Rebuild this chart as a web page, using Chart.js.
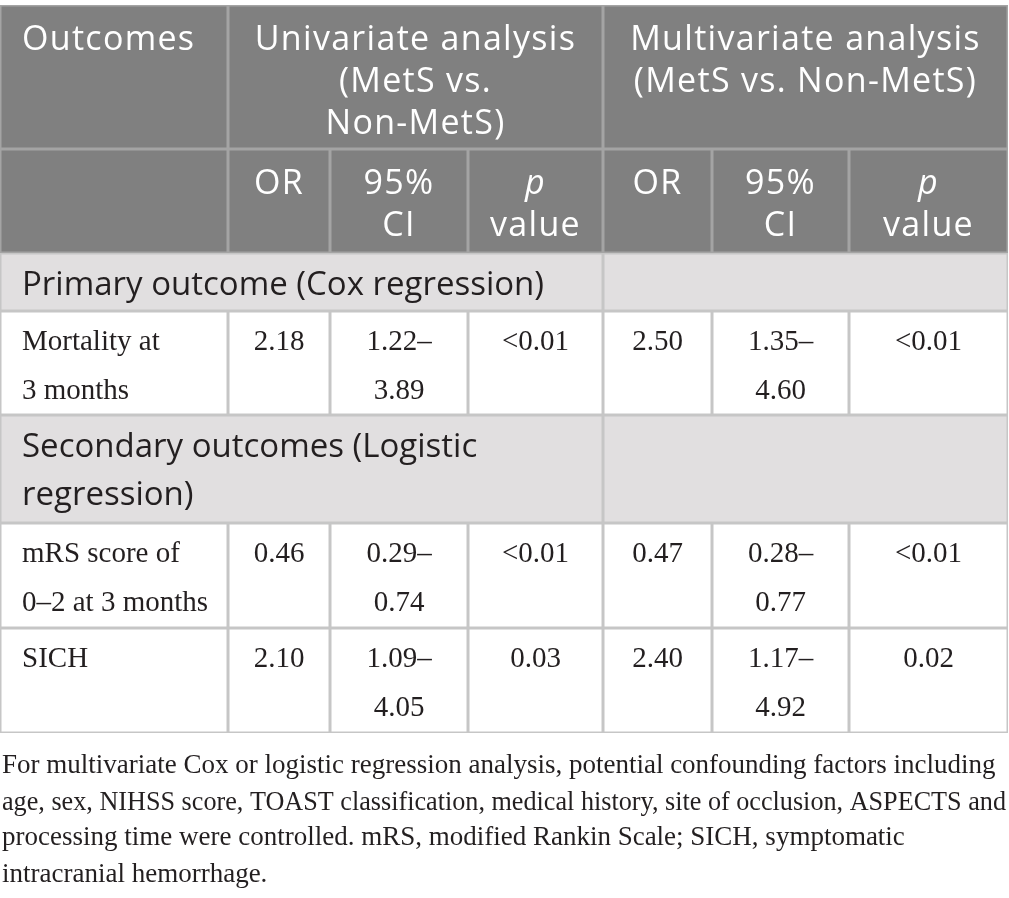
<!DOCTYPE html>
<html>
<head>
<meta charset="utf-8">
<title>MetS outcomes table</title>
<script src="https://cdn.jsdelivr.net/npm/chart.js@4.4.1/dist/chart.umd.min.js"></script>
<style>
	html, body { margin: 0; padding: 0; background: #fff; }
	#tableChart { display: block; }
</style>
</head>
<body>
<canvas id="tableChart" width="1009" height="898"></canvas>
<script>
// 표 데이터
const outcomes = [['Mortality at', '3 months'], ['mRS score of', '0–2 at 3 months'], ['SICH']];
const uniOR = [2.18, 0.46, 2.10];
const uniCILow = [1.22, 0.29, 1.09];
const uniCIHigh = [3.89, 0.74, 4.05];
const uniP = ['<0.01', '<0.01', '0.03'];
const multiOR = [2.50, 0.47, 2.40];
const multiCILow = [1.35, 0.28, 1.17];
const multiCIHigh = [4.60, 0.77, 4.92];
const multiP = ['<0.01', '<0.01', '0.02'];
const sections = [['Primary outcome (Cox regression)'], ['Secondary outcomes (Logistic', 'regression)']];
const groupHeaders = [['Univariate analysis', '(MetS vs.', 'Non-MetS)'], ['Multivariate analysis', '(MetS vs. Non-MetS)']];
const subHeaders = [['OR'], ['95%', 'CI'], ['p', 'value']];
const footnote = [
	'For multivariate Cox or logistic regression analysis, potential confounding factors including',
	'age, sex, NIHSS score, TOAST classification, medical history, site of occlusion, ASPECTS and',
	'processing time were controlled. mRS, modified Rankin Scale; SICH, symptomatic',
	'intracranial hemorrhage.'
];

// 레이아웃 (스케일 단위)
const COL_EDGES = [0, 228, 330, 468, 603, 712, 849, 1008];
const ROW_EDGES = [5, 149, 253, 311, 415, 523, 628, 733];
const FOOT_BASE = [773, 810, 845, 882];

const SANS = '"Open Sans", "Noto Sans", sans-serif';
const SERIF = '"Liberation Serif", "DejaVu Serif", serif';
const STYLE = {
	head: { fill: '#808080', line: '#a4a4a4', color: '#ffffff', font: '34px ' + SANS, spacing: '1.3px', first: 45, pitch: 42 },
	section: { fill: '#e1dfe0', line: '#c6c6c6', color: '#231f20', font: '33px ' + SANS, spacing: '0px', first: 42, pitch: 48 },
	body: { fill: '#ffffff', line: '#c6c6c6', color: '#231f20', font: '29px ' + SERIF, spacing: '0px', first: 39, pitch: 49 }
};

/**
 * 셀 목록 생성
 */
function buildCells() {
	const cells = [];
	const fmt = v => v.toFixed(2);
	// 헤더 1행
	cells.push({ c: [0, 1], r: [0, 1], s: 'head', lines: ['Outcomes'], align: 'left' });
	cells.push({ c: [1, 4], r: [0, 1], s: 'head', lines: groupHeaders[0], align: 'center' });
	cells.push({ c: [4, 7], r: [0, 1], s: 'head', lines: groupHeaders[1], align: 'center' });
	// 헤더 2행
	cells.push({ c: [0, 1], r: [1, 2], s: 'head', lines: [], align: 'left' });
	for (let g = 0; g < 2; g++) {
		subHeaders.forEach(function(h, i) {
			cells.push({ c: [1 + g * 3 + i, 2 + g * 3 + i], r: [1, 2], s: 'head', lines: h, align: 'center', italicFirst: h[0] === 'p' });
		});
	}
	// 본문
	const bodyRows = [3, 5, 6];
	const sectionRows = [2, 4];
	sectionRows.forEach(function(r, i) {
		cells.push({ c: [0, 4], r: [r, r + 1], s: 'section', lines: sections[i], align: 'left' });
		cells.push({ c: [4, 7], r: [r, r + 1], s: 'section', lines: [], align: 'left' });
	});
	bodyRows.forEach(function(r, i) {
		const cols = [
			outcomes[i],
			[fmt(uniOR[i])],
			[fmt(uniCILow[i]) + '–', fmt(uniCIHigh[i])],
			[uniP[i]],
			[fmt(multiOR[i])],
			[fmt(multiCILow[i]) + '–', fmt(multiCIHigh[i])],
			[multiP[i]]
		];
		cols.forEach(function(lines, c) {
			cells.push({ c: [c, c + 1], r: [r, r + 1], s: 'body', lines: lines, align: c === 0 ? 'left' : 'center' });
		});
	});
	return cells;
}

const tablePlugin = {
	id: 'tableCells',
	beforeDatasetsDraw(chart) {
		const ctx = chart.ctx;
		const x = chart.scales.x;
		const y = chart.scales.y;
		const cells = buildCells();
		ctx.save();
		// 배경
		cells.forEach(function(cell) {
			const st = STYLE[cell.s];
			const x0 = x.getPixelForValue(COL_EDGES[cell.c[0]]);
			const x1 = x.getPixelForValue(COL_EDGES[cell.c[1]]);
			const y0 = y.getPixelForValue(ROW_EDGES[cell.r[0]]);
			const y1 = y.getPixelForValue(ROW_EDGES[cell.r[1]]);
			ctx.fillStyle = st.fill;
			ctx.fillRect(x0, y0, x1 - x0, y1 - y0);
		});
		// 테두리
		ctx.lineWidth = 1.5;
		cells.slice().sort((a, b) => (a.s === 'head') - (b.s === 'head')).forEach(function(cell) {
			const st = STYLE[cell.s];
			const x0 = x.getPixelForValue(COL_EDGES[cell.c[0]]);
			const x1 = x.getPixelForValue(COL_EDGES[cell.c[1]]);
			const y0 = y.getPixelForValue(ROW_EDGES[cell.r[0]]);
			const y1 = y.getPixelForValue(ROW_EDGES[cell.r[1]]);
			ctx.strokeStyle = st.line;
			ctx.strokeRect(x0 + 0.75, y0 + 0.75, x1 - x0 - 1.5, y1 - y0 - 1.5);
		});
		// 텍스트
		ctx.textBaseline = 'alphabetic';
		cells.forEach(function(cell) {
			const st = STYLE[cell.s];
			const x0 = x.getPixelForValue(COL_EDGES[cell.c[0]]);
			const x1 = x.getPixelForValue(COL_EDGES[cell.c[1]]);
			const y0 = y.getPixelForValue(ROW_EDGES[cell.r[0]]);
			ctx.fillStyle = st.color;
			ctx.letterSpacing = st.spacing;
			cell.lines.forEach(function(line, i) {
				ctx.font = (cell.italicFirst && i === 0 ? 'italic ' : '') + st.font;
				const base = y0 + st.first + st.pitch * i;
				if (cell.align === 'left') {
					ctx.textAlign = 'left';
					ctx.fillText(line, x0 + 22, base);
				} else {
					ctx.textAlign = 'center';
					ctx.fillText(line, (x0 + x1) / 2, base);
				}
			});
		});
		// 각주
		ctx.letterSpacing = '0px';
		ctx.font = '27px ' + SERIF;
		ctx.textAlign = 'left';
		ctx.fillStyle = '#231f20';
		footnote.forEach(function(line, i) {
			ctx.fillText(line, x.getPixelForValue(2), y.getPixelForValue(FOOT_BASE[i]), 1004);
		});
		ctx.restore();
	}
};

document.addEventListener('DOMContentLoaded', function() {
	const ctx = document.getElementById('tableChart').getContext('2d');
	new Chart(ctx, {
		type: 'scatter',
		data: { datasets: [] },
		options: {
			responsive: false,
			animation: false,
			layout: { padding: 0 },
			scales: {
				x: { type: 'linear', min: 0, max: 1009, display: false },
				y: { type: 'linear', min: 0, max: 898, reverse: true, display: false }
			},
			plugins: {
				legend: { display: false },
				tooltip: { enabled: false }
			}
		},
		plugins: [tablePlugin]
	});
});
</script>
</body>
</html>
